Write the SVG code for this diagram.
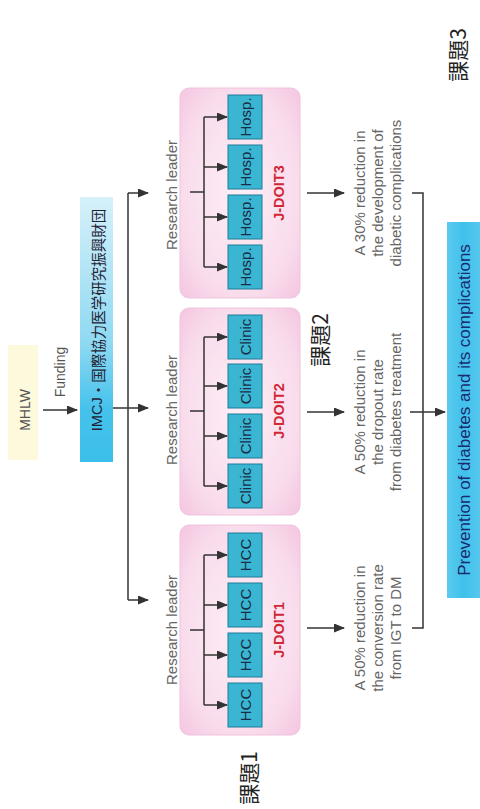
<svg xmlns="http://www.w3.org/2000/svg" width="480" height="809" viewBox="0 0 480 809">
<defs>
<style>
.lat{font-family:"Liberation Sans","Noto Sans CJK JP",sans-serif;}
.cjk{font-family:"Noto Sans CJK JP",sans-serif;}
.rl{font-size:15px;fill:#666;}
.res{font-size:15px;fill:#666;}
.sb{fill:#3ab5d2;stroke:#1e7d97;stroke-width:1;}
.sbt{font-size:15px;fill:#1a2d45;}
.jd{font-size:14.5px;fill:#d12636;font-weight:bold;}
.ln{stroke:#333;stroke-width:1.5;fill:none;}
.pink{fill:url(#pg);stroke:#efc3dd;stroke-width:1;}
.kd{font-size:21px;fill:#222;}
</style>
<radialGradient id="pg" cx="0.5" cy="0.5" r="0.7">
<stop offset="0" stop-color="#fdeef6"/>
<stop offset="0.7" stop-color="#f9dcec"/>
<stop offset="1" stop-color="#f4c6e0"/>
</radialGradient>
<linearGradient id="ig" x1="0" y1="0" x2="0" y2="1">
<stop offset="0" stop-color="#d6f1fa"/>
<stop offset="0.55" stop-color="#8fd9f2"/>
<stop offset="0.8" stop-color="#45c2ec"/>
<stop offset="1" stop-color="#3bbfe9"/>
</linearGradient>
<linearGradient id="prg" x1="0" y1="0" x2="1" y2="0">
<stop offset="0" stop-color="#5ccbef"/>
<stop offset="0.5" stop-color="#3fc1ec"/>
<stop offset="1" stop-color="#56c8ee"/>
</linearGradient>
<marker id="ah" markerWidth="11" markerHeight="9" refX="10" refY="4.5" orient="auto" markerUnits="userSpaceOnUse">
<path d="M0,0 L11,4.5 L0,9 Z" fill="#333"/>
</marker>
</defs>

<rect x="0" y="0" width="480" height="809" fill="#fff"/>

<g id="mhlw">
<rect x="8" y="345" width="30" height="115" fill="#fcf9dc"/>
<text class="lat" font-size="14" fill="#555" text-anchor="middle" dominant-baseline="central" transform="translate(25,410) rotate(-90)">MHLW</text>
</g>

<g id="imcj">
<rect x="80" y="197" width="33" height="265" fill="url(#ig)"/>
<text class="lat" font-size="14.5" fill="#223" text-anchor="middle" dominant-baseline="central" transform="translate(97,320) rotate(-90)">IMCJ<tspan class="cjk">・国際協力医学研究振興財団</tspan></text>
</g>

<g id="funding-label">
<text class="lat" font-size="14" fill="#555" text-anchor="middle" dominant-baseline="central" transform="translate(60,372) rotate(-90)">Funding</text>
</g>

<g id="leaders">
<text class="lat rl" text-anchor="middle" dominant-baseline="central" transform="translate(171,195) rotate(-90)">Research leader</text>
<text class="lat rl" text-anchor="middle" dominant-baseline="central" transform="translate(171,410) rotate(-90)">Research leader</text>
<text class="lat rl" text-anchor="middle" dominant-baseline="central" transform="translate(171,630) rotate(-90)">Research leader</text>
</g>

<g id="jdoit3">
<rect class="pink" x="180" y="88" width="120" height="210" rx="9"/>
<rect class="sb" x="228" y="95" width="34" height="44"/>
<rect class="sb" x="228" y="145" width="34" height="44"/>
<rect class="sb" x="228" y="195" width="34" height="44"/>
<rect class="sb" x="228" y="245" width="34" height="44"/>
<text class="lat sbt" text-anchor="middle" dominant-baseline="central" transform="translate(245,117) rotate(-90)">Hosp.</text>
<text class="lat sbt" text-anchor="middle" dominant-baseline="central" transform="translate(245,167) rotate(-90)">Hosp.</text>
<text class="lat sbt" text-anchor="middle" dominant-baseline="central" transform="translate(245,217) rotate(-90)">Hosp.</text>
<text class="lat sbt" text-anchor="middle" dominant-baseline="central" transform="translate(245,267) rotate(-90)">Hosp.</text>
<text class="lat jd" text-anchor="middle" dominant-baseline="central" transform="translate(279,193) rotate(-90)">J-DOIT3</text>
</g>

<g id="jdoit2">
<rect class="pink" x="180" y="308" width="120" height="207" rx="9"/>
<rect class="sb" x="228" y="315" width="34" height="44"/>
<rect class="sb" x="228" y="364" width="34" height="44"/>
<rect class="sb" x="228" y="414" width="34" height="44"/>
<rect class="sb" x="228" y="464" width="34" height="44"/>
<text class="lat sbt" font-size="14.5" text-anchor="middle" dominant-baseline="central" transform="translate(245,337) rotate(-90)">Clinic</text>
<text class="lat sbt" font-size="14.5" text-anchor="middle" dominant-baseline="central" transform="translate(245,386) rotate(-90)">Clinic</text>
<text class="lat sbt" font-size="14.5" text-anchor="middle" dominant-baseline="central" transform="translate(245,436) rotate(-90)">Clinic</text>
<text class="lat sbt" font-size="14.5" text-anchor="middle" dominant-baseline="central" transform="translate(245,486) rotate(-90)">Clinic</text>
<text class="lat jd" text-anchor="middle" dominant-baseline="central" transform="translate(279,411) rotate(-90)">J-DOIT2</text>
</g>

<g id="jdoit1">
<rect class="pink" x="180" y="525" width="120" height="210" rx="9"/>
<rect class="sb" x="228" y="533" width="34" height="44"/>
<rect class="sb" x="228" y="583" width="34" height="44"/>
<rect class="sb" x="228" y="633" width="34" height="44"/>
<rect class="sb" x="228" y="683" width="34" height="44"/>
<text class="lat sbt" font-size="16.5" text-anchor="middle" dominant-baseline="central" transform="translate(245,555) rotate(-90)">HCC</text>
<text class="lat sbt" font-size="16.5" text-anchor="middle" dominant-baseline="central" transform="translate(245,605) rotate(-90)">HCC</text>
<text class="lat sbt" font-size="16.5" text-anchor="middle" dominant-baseline="central" transform="translate(245,655) rotate(-90)">HCC</text>
<text class="lat sbt" font-size="16.5" text-anchor="middle" dominant-baseline="central" transform="translate(245,705) rotate(-90)">HCC</text>
<text class="lat jd" text-anchor="middle" dominant-baseline="central" transform="translate(279,630) rotate(-90)">J-DOIT1</text>
</g>

<g id="result3">
<text class="lat res" text-anchor="middle" dominant-baseline="central" transform="translate(359,193) rotate(-90)">A 30% reduction in</text>
<text class="lat res" text-anchor="middle" dominant-baseline="central" transform="translate(377,193) rotate(-90)">the development of</text>
<text class="lat res" text-anchor="middle" dominant-baseline="central" transform="translate(395,193) rotate(-90)">diabetic complications</text>
</g>
<g id="result2">
<text class="lat res" text-anchor="middle" dominant-baseline="central" transform="translate(359,412) rotate(-90)">A 50% reduction in</text>
<text class="lat res" text-anchor="middle" dominant-baseline="central" transform="translate(377,412) rotate(-90)">the dropout rate</text>
<text class="lat res" text-anchor="middle" dominant-baseline="central" transform="translate(395,412) rotate(-90)">from diabetes treatment</text>
</g>
<g id="result1">
<text class="lat res" text-anchor="middle" dominant-baseline="central" transform="translate(359,628) rotate(-90)">A 50% reduction in</text>
<text class="lat res" text-anchor="middle" dominant-baseline="central" transform="translate(377,628) rotate(-90)">the conversion rate</text>
<text class="lat res" text-anchor="middle" dominant-baseline="central" transform="translate(395,628) rotate(-90)">from IGT to DM</text>
</g>

<g id="prevention">
<rect x="447" y="222" width="33" height="376" fill="url(#prg)"/>
<text class="lat" font-size="17" fill="#1c2a6e" text-anchor="middle" dominant-baseline="central" transform="translate(464,410) rotate(-90)">Prevention of diabetes and its complications</text>
</g>

<g id="kadai">
<text class="cjk kd" text-anchor="middle" dominant-baseline="central" transform="translate(457,55) rotate(-90)">課題3</text>
<text class="cjk kd" font-size="18" text-anchor="middle" dominant-baseline="central" transform="translate(319,340) rotate(-90)">課題2</text>
<text class="cjk kd" text-anchor="middle" dominant-baseline="central" transform="translate(248,778) rotate(-90)">課題1</text>
</g>

<g id="connectors">
<line class="ln" x1="43" y1="410" x2="77" y2="410" marker-end="url(#ah)"/>
<line class="ln" x1="113" y1="408" x2="148" y2="408" marker-end="url(#ah)"/>
<line class="ln" x1="128" y1="193" x2="128" y2="600"/>
<line class="ln" x1="128" y1="193" x2="148" y2="193" marker-end="url(#ah)"/>
<line class="ln" x1="128" y1="600" x2="148" y2="600" marker-end="url(#ah)"/>

<path class="ln" d="M190,192 H204 M204,117 V267"/>
<line class="ln" x1="204" y1="117" x2="227" y2="117" marker-end="url(#ah)"/>
<line class="ln" x1="204" y1="167" x2="227" y2="167" marker-end="url(#ah)"/>
<line class="ln" x1="204" y1="217" x2="227" y2="217" marker-end="url(#ah)"/>
<line class="ln" x1="204" y1="267" x2="227" y2="267" marker-end="url(#ah)"/>

<path class="ln" d="M190,411 H204 M204,337 V486"/>
<line class="ln" x1="204" y1="337" x2="227" y2="337" marker-end="url(#ah)"/>
<line class="ln" x1="204" y1="386" x2="227" y2="386" marker-end="url(#ah)"/>
<line class="ln" x1="204" y1="436" x2="227" y2="436" marker-end="url(#ah)"/>
<line class="ln" x1="204" y1="486" x2="227" y2="486" marker-end="url(#ah)"/>

<path class="ln" d="M190,630 H204 M204,555 V705"/>
<line class="ln" x1="204" y1="555" x2="227" y2="555" marker-end="url(#ah)"/>
<line class="ln" x1="204" y1="605" x2="227" y2="605" marker-end="url(#ah)"/>
<line class="ln" x1="204" y1="655" x2="227" y2="655" marker-end="url(#ah)"/>
<line class="ln" x1="204" y1="705" x2="227" y2="705" marker-end="url(#ah)"/>

<line class="ln" x1="307" y1="193" x2="344" y2="193" marker-end="url(#ah)"/>
<line class="ln" x1="307" y1="412" x2="344" y2="412" marker-end="url(#ah)"/>
<line class="ln" x1="307" y1="628" x2="344" y2="628" marker-end="url(#ah)"/>

<path class="ln" d="M412,193 H423 V628 H412"/>
<line class="ln" x1="410" y1="412" x2="445" y2="412" marker-end="url(#ah)"/>
</g>
</svg>
